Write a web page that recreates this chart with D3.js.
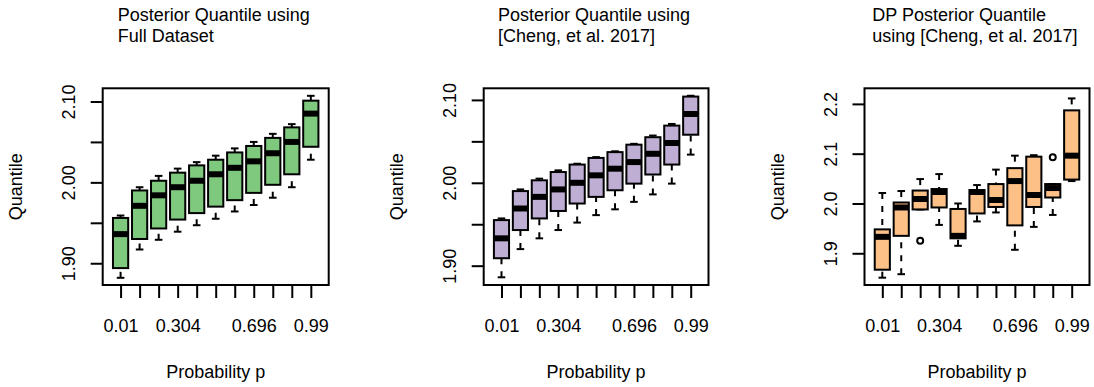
<!DOCTYPE html>
<html lang="en">
<head>
<meta charset="utf-8">
<title>Posterior Quantile boxplots</title>
<style>
  body { margin: 0; background: #fff; }
  svg text { font-family: "Liberation Sans", Arial, Helvetica, sans-serif; font-size: 18px; fill: #000; }
  .frame { fill: none; stroke: #000; stroke-width: 2px; }
  .axis path, .axis line { stroke: #000; stroke-width: 2px; }
  .box { stroke: #000; stroke-width: 2px; }
  .median { stroke: #000; stroke-width: 6px; }
  .whisker { stroke: #000; stroke-width: 2px; stroke-dasharray: 6,7; }
  .staple { stroke: #000; stroke-width: 2px; }
  .outlier { fill: none; stroke: #000; stroke-width: 2px; }
</style>
</head>
<body>
<script src="https://cdn.jsdelivr.net/npm/d3@7"></script>
<script>

// probability levels on the x axis (one box per level)
var probs = [0.01, 0.108, 0.206, 0.304, 0.402, 0.5, 0.598, 0.696, 0.794, 0.892, 0.99];
var probLabels = ["0.01", "0.304", "0.696", "0.99"];   // labels R kept on the axis

// [lower whisker, Q1, median, Q3, upper whisker] for every level
var fullStats = [
    [1.882, 1.894, 1.936, 1.956, 1.959],
    [1.917, 1.930, 1.971, 1.990, 1.994],
    [1.929, 1.943, 1.984, 2.002, 2.008],
    [1.939, 1.954, 1.994, 2.012, 2.017],
    [1.947, 1.962, 2.002, 2.021, 2.025],
    [1.955, 1.970, 2.010, 2.028, 2.033],
    [1.964, 1.978, 2.018, 2.037, 2.042],
    [1.972, 1.987, 2.026, 2.045, 2.050],
    [1.981, 1.997, 2.036, 2.055, 2.060],
    [1.994, 2.010, 2.050, 2.068, 2.072],
    [2.028, 2.044, 2.085, 2.101, 2.107]
];

var chengStats = [
    [1.886, 1.909, 1.933, 1.955, 1.957],
    [1.920, 1.943, 1.969, 1.990, 1.992],
    [1.933, 1.957, 1.983, 2.003, 2.005],
    [1.943, 1.966, 1.992, 2.013, 2.015],
    [1.952, 1.975, 2.000, 2.022, 2.023],
    [1.961, 1.983, 2.009, 2.030, 2.031],
    [1.968, 1.991, 2.017, 2.037, 2.038],
    [1.977, 1.999, 2.025, 2.046, 2.047],
    [1.986, 2.010, 2.035, 2.055, 2.057],
    [1.999, 2.022, 2.048, 2.069, 2.071],
    [2.034, 2.058, 2.083, 2.104, 2.105]
];

var dpStats = [
    [1.851, 1.867, 1.933, 1.948, 2.021],
    [1.858, 1.935, 1.992, 2.002, 2.025],
    [1.988, 1.988, 2.009, 2.026, 2.049],
    [1.957, 1.992, 2.023, 2.029, 2.059],
    [1.915, 1.930, 1.935, 1.989, 2.000],
    [1.964, 1.980, 2.023, 2.027, 2.037],
    [1.982, 1.993, 2.007, 2.039, 2.068],
    [1.907, 1.956, 2.045, 2.071, 2.096],
    [1.953, 1.993, 2.017, 2.094, 2.097],
    [1.977, 2.012, 2.031, 2.039, 2.039],
    [2.045, 2.048, 2.096, 2.187, 2.211]
];
// [box index, value]
var dpOutliers = [[2, 1.925], [9, 2.093]];

var fullTicks = [1.90, 1.95, 2.00, 2.05, 2.10];
var fullTickLabels = ["1.90", "2.00", "2.10"];
var chengTicks = [1.90, 1.95, 2.00, 2.05, 2.10];
var chengTickLabels = ["1.90", "2.00", "2.10"];
var dpTicks = [1.9, 2.0, 2.1, 2.2];
var dpTickLabels = ["1.9", "2.0", "2.1", "2.2"];

var panels = [
    {stats: fullStats, outliers: [], fill: "#7fc97f",
     title: ["Posterior Quantile using", "Full Dataset"],
     left: 102.7, right: 328.7, titleX: 117.7, yDomain: [1.8731, 2.1163],
     ticks: fullTicks, tickLabels: fullTickLabels, fmt: ".2f"},
    {stats: chengStats, outliers: [], fill: "#beaed4",
     title: ["Posterior Quantile using", "[Cheng, et al. 2017]"],
     left: 483.7, right: 708.5, titleX: 498, yDomain: [1.8767, 2.1140],
     ticks: chengTicks, tickLabels: chengTickLabels, fmt: ".2f"},
    {stats: dpStats, outliers: dpOutliers, fill: "#fdc086",
     title: ["DP Posterior Quantile", "using [Cheng, et al. 2017]"],
     left: 864.5, right: 1089.5, titleX: 872.3, yDomain: [1.8363, 2.2313],
     ticks: dpTicks, tickLabels: dpTickLabels, fmt: ".1f"}
];

var width = 1094, height = 387,
    plotTop = 88.3, plotBottom = 285;

var svg = d3.select("body").append("svg")
    .attr("width", width)
    .attr("height", height);

panels.forEach(function(p) {
    var x = d3.scaleLinear().domain([0.06, probs.length + 0.94]).range([p.left, p.right]);
    var y = d3.scaleLinear().domain(p.yDomain).range([plotBottom, plotTop]);
    var step = x(1) - x(0),
        hw = 0.4 * step,     // half box width (boxwex 0.8)
        sw = 0.2 * step;     // half staple width

    var g = svg.append("g");

    // title, two left aligned lines
    g.selectAll("text.title")
        .data(p.title)
        .enter().append("text")
        .attr("class", "title")
        .attr("x", p.titleX)
        .attr("y", function(d, i) { return 20.7 + i * 21.6; })
        .text(function(d) { return d; });

    // y axis
    var fmt = d3.format(p.fmt);
    var yAxis = g.append("g")
        .attr("class", "axis")
        .attr("transform", "translate(" + p.left + ",0)")
        .call(d3.axisLeft(y)
            .tickValues(p.ticks)
            .tickSize(12)
            .tickSizeOuter(0)
            .tickFormat(function(d) { return p.tickLabels.indexOf(fmt(d)) >= 0 ? fmt(d) : ""; }));
    yAxis.selectAll("text")
        .attr("x", null).attr("dy", null)
        .attr("text-anchor", "middle")
        .attr("transform", "translate(-28,0) rotate(-90)");

    // x axis
    var xAxis = g.append("g")
        .attr("class", "axis")
        .attr("transform", "translate(0," + plotBottom + ")")
        .call(d3.axisBottom(x)
            .tickValues(d3.range(1, probs.length + 1))
            .tickSize(13)
            .tickSizeOuter(0)
            .tickFormat(function(i) {
                var s = String(probs[i - 1]);
                return probLabels.indexOf(s) >= 0 ? s : "";
            }));
    xAxis.selectAll("text")
        .attr("dy", null)
        .attr("y", 46.7);
    xAxis.select(".domain").remove();
    yAxis.select(".domain").remove();
    g.selectAll(".axis text").attr("fill", "#000");

    // axis titles
    g.append("text")
        .attr("text-anchor", "middle")
        .attr("transform", "translate(" + (p.left - 81) + "," + ((plotTop + plotBottom) / 2) + ") rotate(-90)")
        .text("Quantile");
    g.append("text")
        .attr("text-anchor", "middle")
        .attr("x", (p.left + p.right) / 2)
        .attr("y", 378)
        .text("Probability p");

    // boxes
    var box = g.selectAll("g.bx")
        .data(p.stats)
        .enter().append("g")
        .attr("class", "bx");

    box.append("line")     // lower whisker, drawn from the staple up
        .attr("class", "whisker")
        .attr("x1", function(d, i) { return x(i + 1); })
        .attr("x2", function(d, i) { return x(i + 1); })
        .attr("y1", function(d) { return y(d[0]); })
        .attr("y2", function(d) { return y(d[1]); });
    box.append("line")     // upper whisker
        .attr("class", "whisker")
        .attr("x1", function(d, i) { return x(i + 1); })
        .attr("x2", function(d, i) { return x(i + 1); })
        .attr("y1", function(d) { return y(d[4]); })
        .attr("y2", function(d) { return y(d[3]); });

    [0, 4].forEach(function(k) {
        box.append("line")
            .attr("class", "staple")
            .attr("x1", function(d, i) { return x(i + 1) - sw; })
            .attr("x2", function(d, i) { return x(i + 1) + sw; })
            .attr("y1", function(d) { return y(d[k]); })
            .attr("y2", function(d) { return y(d[k]); });
    });

    box.append("rect")
        .attr("class", "box")
        .attr("fill", p.fill)
        .attr("x", function(d, i) { return x(i + 1) - hw; })
        .attr("width", 2 * hw)
        .attr("y", function(d) { return y(d[3]); })
        .attr("height", function(d) { return y(d[1]) - y(d[3]); });

    box.append("line")
        .attr("class", "median")
        .attr("x1", function(d, i) { return x(i + 1) - hw; })
        .attr("x2", function(d, i) { return x(i + 1) + hw; })
        .attr("y1", function(d) { return y(d[2]); })
        .attr("y2", function(d) { return y(d[2]); });

    g.selectAll("circle.outlier")
        .data(p.outliers)
        .enter().append("circle")
        .attr("class", "outlier")
        .attr("cx", function(d) { return x(d[0] + 1); })
        .attr("cy", function(d) { return y(d[1]); })
        .attr("r", 3);

    // plot frame
    g.append("rect")
        .attr("class", "frame")
        .attr("x", p.left)
        .attr("y", plotTop)
        .attr("width", p.right - p.left)
        .attr("height", plotBottom - plotTop);
});

</script>
</body>
</html>
